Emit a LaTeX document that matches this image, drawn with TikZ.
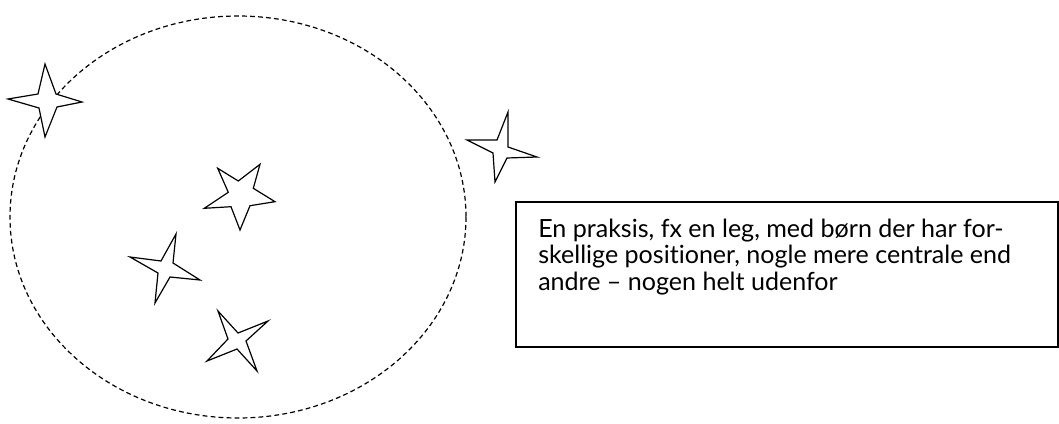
\documentclass[tikz,border=0pt]{standalone}
\usepackage{fontspec}
\setmainfont{Lato}[Ligatures=CommonOff]
\newlength\lineonewd
\begin{document}
\settowidth\lineonewd{\fontsize{10pt}{12pt}\selectfont En praksis, fx en leg, med børn der har for-}%
\pgfmathsetmacro\fsz{10*349/\lineonewd}%
\begin{tikzpicture}[x=0.75pt,y=-0.75pt,
  starline/.style={draw=black,line width=0.9pt,line join=miter,fill=white},
  circle dash/.style={draw=black,line width=0.9pt,dash pattern=on 3.6pt off 2.4pt},
  textbox/.style={draw=black,line width=0.8pt,inner sep=0pt},
  boxtext/.style={anchor=base west,inner sep=0pt,font=\fontsize{\fsz pt}{20pt}\selectfont}]
\useasboundingbox (0,0) rectangle (1059,424);
% dashed ellipse
\draw[circle dash] (238,217) ellipse [x radius=228, y radius=201];
% star 1 (four points, on the ellipse)
\draw[starline] (45,64) -- (56,94) -- (82,102) -- (57,107) -- (45,137) -- (39,108) -- (8,99) -- (38,94) -- cycle;
% star 2 (outside)
\draw[starline] (508,112) -- (508,147) -- (537,157) -- (507,158) -- (495,182) -- (493,153) -- (467,140) -- (497,140) -- cycle;
% star 3 (five points)
\draw[starline] (217.7,168.3) -- (238.3,181) -- (260,164.3) -- (253.3,188.3) -- (275,201.7) -- (250,205.7) -- (240,230) -- (231,206.7) -- (204.3,208.3) -- (228.3,192.3) -- cycle;
% star 4
\draw[starline] (176,234) -- (173,263) -- (200,280) -- (170,277) -- (155,303) -- (158,273) -- (130,257) -- (161,261) -- cycle;
% star 5
\draw[starline] (218,311) -- (238,333) -- (268,321) -- (246,341) -- (257,371) -- (237,349) -- (207,361) -- (228,339) -- cycle;
% text box
\path[textbox] (516,202) rectangle (1058,347);
\node[boxtext] (txt1) at (538,237) {En praksis, fx en leg, med børn der har for-};
\node[boxtext] (txt2) at (538,263.5) {skellige positioner, nogle mere centrale end};
\node[boxtext] (txt3) at (538,290) {andre – nogen helt udenfor};
\end{tikzpicture}
\end{document}
